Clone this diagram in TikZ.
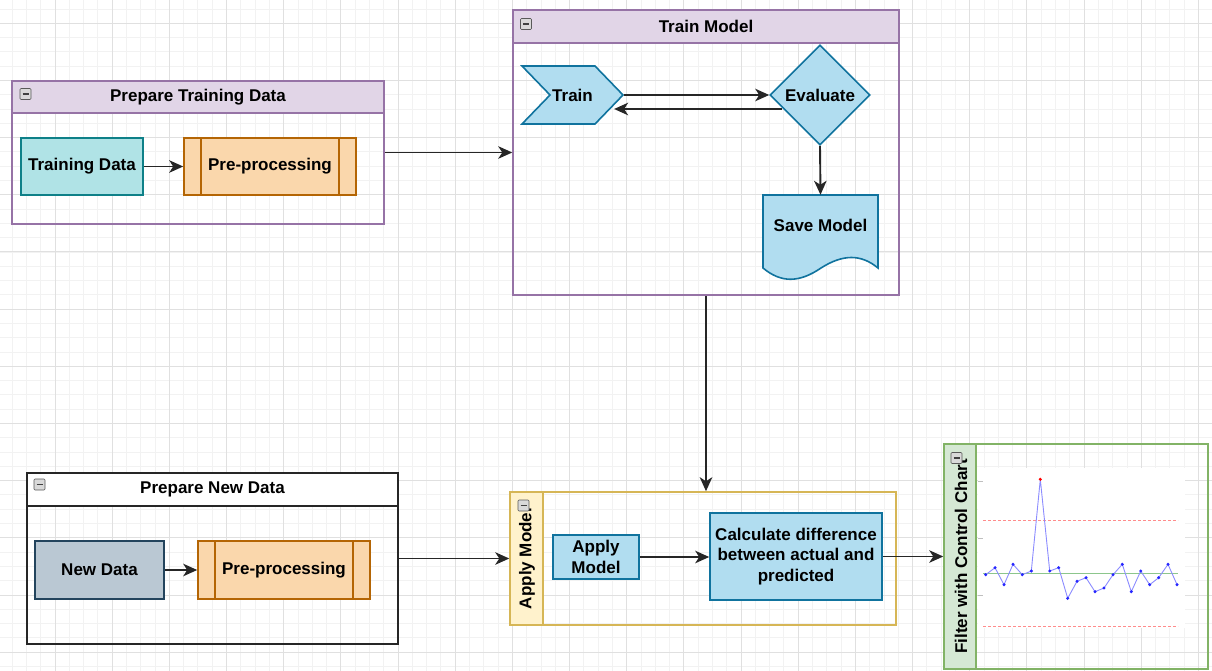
\documentclass[tikz,border=0pt]{standalone}
\usepackage{fontspec}
\setmainfont{Liberation Sans}
\usetikzlibrary{arrows.meta,calc,shapes.geometric,shapes.symbols}

\definecolor{lilac}{HTML}{E1D5E7}
\definecolor{lilacline}{HTML}{9673A6}
\definecolor{teal}{HTML}{B0E3E6}
\definecolor{tealline}{HTML}{0E8088}
\definecolor{peach}{HTML}{FAD7AC}
\definecolor{peachline}{HTML}{B46504}
\definecolor{slate}{HTML}{BAC8D3}
\definecolor{slateline}{HTML}{23445D}
\definecolor{sky}{HTML}{B1DDF0}
\definecolor{skyline}{HTML}{10739E}
\definecolor{cream}{HTML}{FFF2CC}
\definecolor{creamline}{HTML}{D6B656}
\definecolor{mint}{HTML}{D5E8D4}
\definecolor{mintline}{HTML}{82B366}

\tikzset{
  every node/.style={font=\fontsize{17}{20.5}\selectfont\bfseries, inner sep=0pt, align=center},
  arr/.style={-{Stealth[length=14pt,width=12.5pt,inset=4pt]}, line width=1.9pt, black!85},
  lane/.style={draw=#1, line width=1.5pt},
  lanehead/.style={draw=#1, line width=1.5pt},
  collapse/.style={draw=gray!70!black, fill=gray!30, line width=0.6pt, minimum size=11pt,
    rounded corners=1pt, font={},
    path picture={\draw[black!75, line width=1.3pt]
      ([xshift=2.5pt]path picture bounding box.west) -- ([xshift=-2.5pt]path picture bounding box.east);}},
  databox/.style={draw=#1, line width=1.6pt},
  procbox/.style={draw=peachline, fill=peach, line width=1.6pt,
    path picture={\draw[peachline, line width=1.6pt]
      ([xshift=17pt]path picture bounding box.north west) -- ([xshift=17pt]path picture bounding box.south west)
      ([xshift=-17pt]path picture bounding box.north east) -- ([xshift=-17pt]path picture bounding box.south east);}},
  stepbox/.style={draw=skyline, fill=sky, line width=1.6pt},
}

\begin{document}
\begin{tikzpicture}[x=1pt, y=-1pt]
\useasboundingbox (0,0) rectangle (1212,671);

% background grid
\foreach \k in {0,...,84}
  \draw[black!5, line width=0.9pt] (12.12+\k*14.2925, 0) -- ++(0,671);
\foreach \k in {0,...,46}
  \draw[black!5, line width=0.9pt] (0, 9.0+\k*14.2925) -- ++(1212,0);
\foreach \k in {1,...,21}
  \draw[black!12, line width=1pt] (-2.17+\k*57.17, 0) -- ++(0,671);
\foreach \k in {0,...,11}
  \draw[black!12, line width=1pt] (0, 23.3+\k*57.17) -- ++(1212,0);

% prepare training data
\node[lane=lilacline, minimum width=372pt, minimum height=143pt] (ptd) at (198,152.5) {};
\node[lanehead=lilacline, fill=lilac, minimum width=372pt, minimum height=32pt] (ptdhead) at (198,97) {Prepare Training Data};
\node[collapse] (ptdicon) at (25.5,94) {};
\node[databox=tealline, fill=teal, minimum width=122pt, minimum height=57pt] (trdata) at (82,166.5) {Training Data};
\node[procbox, minimum width=172pt, minimum height=57pt] (trpre) at (270,166.5) {Pre-processing};

% train model
\node[lane=lilacline, minimum width=386pt, minimum height=285pt] (tm) at (706,152.5) {};
\node[lanehead=lilacline, fill=lilac, minimum width=386pt, minimum height=33pt] (tmhead) at (706,26.5) {Train Model};
\node[collapse] (tmicon) at (526,24) {};
\node[stepbox, shape=signal, signal from=west, signal to=east, signal pointer angle=92,
  minimum width=101pt, minimum height=58pt] (train) at (572.5,95) {Train};
\node[stepbox, shape=diamond, aspect=1, minimum width=100pt, minimum height=100pt] (eval) at (820,95) {Evaluate};
\draw[stepbox] (763,195) -- (878,195) -- (878,268)
  .. controls (861,254) and (843,254) .. (821,268)
  .. controls (799,283) and (781,283) .. (763,268) -- cycle;
\node[minimum width=115pt, minimum height=60pt] (save) at (820.5,225) {Save Model};

% prepare new data
\node[lane=black!85, minimum width=371pt, minimum height=171pt] (pnd) at (212.5,558.5) {};
\node[lanehead=black!85, fill=white, minimum width=371pt, minimum height=33pt] (pndhead) at (212.5,489.5) {Prepare New Data};
\node[collapse] (pndicon) at (39.5,484.5) {};
\node[databox=slateline, fill=slate, minimum width=129pt, minimum height=58pt] (newdata) at (99.5,570) {New Data};
\node[procbox, minimum width=172pt, minimum height=58pt] (newpre) at (284,570) {Pre-processing};

% apply model
\node[lane=creamline, minimum width=386pt, minimum height=133pt] (am) at (703,558.5) {};
\node[lanehead=creamline, fill=cream, minimum width=33pt, minimum height=133pt] (amhead) at (526.5,558.5) {};
\node[rotate=90] (amtitle) at (527,558.5) {Apply Model};
\node[collapse] (amicon) at (523.5,505.5) {};
\node[stepbox, minimum width=86pt, minimum height=44pt] (apply) at (596,557) {Apply\\Model};
\node[stepbox, minimum width=172pt, minimum height=87pt] (calc) at (796,556.5) {Calculate difference\\between actual and\\predicted};

% filter with control chart
\node[lane=mintline, minimum width=264pt, minimum height=225pt] (fcc) at (1076,556.5) {};
\node[lanehead=mintline, fill=mint, minimum width=32pt, minimum height=225pt] (fcchead) at (960,556.5) {};
\node[rotate=90] (fcctitle) at (961,556.5) {Filter with Control Chart};
\node[collapse] (fccicon) at (956.5,458) {};

% control chart
\fill[white] (978,468) rectangle (1185,628);
\foreach \y in {481.7,538,595}
  \draw[black!25, line width=0.6pt] (978,\y) -- (983,\y);
\draw[red!45, dashed, line width=0.8pt, dash pattern=on 3pt off 2pt] (983,520.7) -- (1178,520.7);
\draw[red!45, dashed, line width=0.8pt, dash pattern=on 3pt off 2pt] (983,626.7) -- (1178,626.7);
\draw[green!50!black!45, line width=0.8pt] (983,573.3) -- (1178,573.3);
\draw[blue!45, line width=0.9pt] plot coordinates {(985.7,574.7) (995,567.7) (1004,584.7) (1013,564.3)
  (1022.3,574.7) (1031.3,571) (1040.3,479.3) (1049.7,571) (1058.7,567.7) (1067.7,598.3) (1077,581.3)
  (1086,577.7) (1095,591.7) (1104,588) (1113,574.7) (1122.3,564.3) (1131.3,591.7) (1140.7,571)
  (1149.7,584.7) (1158.7,577.7) (1168,564.3) (1177,584.7)};
\foreach \x/\y in {985.7/574.7, 995/567.7, 1004/584.7, 1013/564.3, 1022.3/574.7, 1031.3/571,
  1049.7/571, 1058.7/567.7, 1067.7/598.3, 1077/581.3, 1086/577.7, 1095/591.7, 1104/588,
  1113/574.7, 1122.3/564.3, 1131.3/591.7, 1140.7/571, 1149.7/584.7, 1158.7/577.7, 1168/564.3, 1177/584.7}
  \fill[blue!85] (\x,\y) circle (1.7);
\fill[red] (1040.3,479.3) circle (1.7);

% connectors
\draw[arr] (trdata) -- (trpre);
\draw[arr] (newdata) -- (newpre);
\draw[arr] (ptd.east) -- (tm.west);
\draw[arr] (train.east) -- (eval.west);
\draw[arr] ($(eval.west)+(13,14)$) -- ($(train.east)+(-10,14)$);
\draw[arr] (eval.south) -- (save.north);
\draw[arr] (tm.south) -- (tm.south |- am.north);
\draw[arr] (pnd.east) -- (am.west);
\draw[arr] (apply.east) -- (calc.west |- apply.east);
\draw[arr] (calc.east) -- (fcc.west);

\end{tikzpicture}
\end{document}
